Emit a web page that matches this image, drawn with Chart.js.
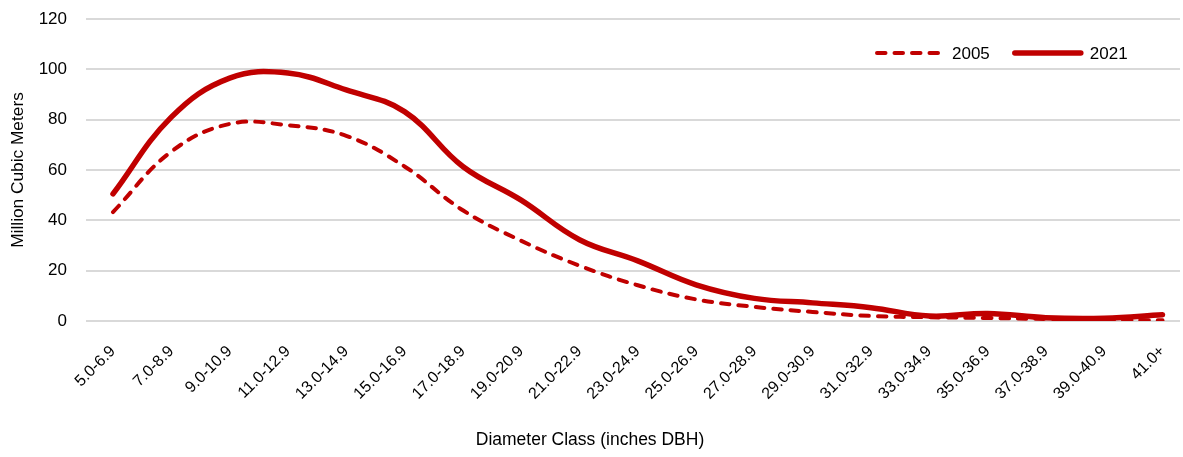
<!DOCTYPE html>
<html>
<head>
<meta charset="utf-8">
<script src="https://cdn.jsdelivr.net/npm/chart.js@4.4.1/dist/chart.umd.min.js"></script>
<style>
  html, body { margin: 0; padding: 0; background: #fff; }
  #wrap { width: 1183px; height: 457px; }
</style>
</head>
<body>
<div id="wrap"><canvas id="c" width="1183" height="457"></canvas></div>
<script>
const categories = ["5.0-6.9","7.0-8.9","9.0-10.9","11.0-12.9","13.0-14.9","15.0-16.9","17.0-18.9","19.0-20.9","21.0-22.9","23.0-24.9","25.0-26.9","27.0-28.9","29.0-30.9","31.0-32.9","33.0-34.9","35.0-36.9","37.0-38.9","39.0-40.9","41.0+"];
const values2005 = [43.3, 67.3, 78.3, 77.8, 73.6, 61.4, 44, 31.9, 22, 14.2, 8.6, 5.6, 3.6, 2, 1.5, 1.2, 0.8, 0.5, 0.3];
const values2021 = [50.5, 81, 96.5, 98.5, 91.8, 83.2, 61.4, 48, 32.3, 23.9, 14.4, 9, 7.2, 5.3, 2, 3, 1.3, 1.1, 2.5];
const yTicks = [0, 20, 40, 60, 80, 100, 120];

const FONT = "'Liberation Sans', Arial, sans-serif";
const RED = '#C00000';

const toPts = arr => arr.map((v, i) => ({ x: i, y: v }));

const customLegend = {
  id: 'customLegend',
  afterDraw(chart) {
    const ctx = chart.ctx;
    const area = chart.chartArea;
    let x = area.right - 305;
    const y = area.top + 34;
    ctx.save();
    ctx.font = '17px ' + FONT;
    ctx.textBaseline = 'middle';
    ctx.textAlign = 'left';
    chart.data.datasets.forEach(ds => {
      ctx.beginPath();
      ctx.strokeStyle = ds.borderColor;
      ctx.lineWidth = ds.borderWidth;
      ctx.lineCap = 'round';
      ctx.setLineDash(ds.borderDash || []);
      ctx.moveTo(x + 2, y);
      ctx.lineTo(x + 68, y);
      ctx.stroke();
      ctx.setLineDash([]);
      x += 77;
      ctx.fillStyle = '#000';
      ctx.fillText(ds.label, x, y + 1);
      x += ctx.measureText(ds.label).width + 23;
    });
    ctx.restore();
  }
};

new Chart(document.getElementById('c'), {
  type: 'line',
  data: {
    datasets: [
      { label: '2005', data: toPts(values2005), borderColor: RED, backgroundColor: RED,
        borderWidth: 4, borderDash: [8.5, 9], borderCapStyle: 'round', tension: 0.4,
        pointRadius: 0, fill: false },
      { label: '2021', data: toPts(values2021), borderColor: RED, backgroundColor: RED,
        borderWidth: 5.5, borderCapStyle: 'round', tension: 0.4,
        pointRadius: 0, fill: false }
    ]
  },
  options: {
    responsive: false,
    animation: false,
    layout: { padding: { top: 19, right: 3, left: 0, bottom: 0 } },
    scales: {
      x: {
        type: 'linear',
        min: -0.463,
        max: 18.30,
        grid: { display: false },
        border: { display: false },
        ticks: {
          stepSize: 1,
          autoSkip: false,
          includeBounds: false,
          minRotation: 45,
          maxRotation: 45,
          padding: 13,
          color: '#000',
          font: { family: FONT, size: 16 },
          callback: v => (Number.isInteger(v) && categories[v] !== undefined) ? categories[v] : ''
        },
        afterFit: s => { s.height = 102; s.paddingLeft = 0; s.paddingRight = 0; }
      },
      y: {
        min: 0,
        max: 120,
        afterBuildTicks: s => { s.ticks = yTicks.map(v => ({ value: v })); },
        grid: { color: '#d9d9d9', lineWidth: 2, drawTicks: false },
        border: { display: false },
        ticks: { padding: 19, color: '#000', font: { family: FONT, size: 17 } },
        title: { display: true, text: 'Million Cubic Meters', color: '#000',
                 font: { family: FONT, size: 17.3 }, padding: { top: 8, bottom: 0 } },
        afterFit: s => { s.width = 86; s.paddingTop = 0; s.paddingBottom = 0; }
      }
    },
    plugins: {
      legend: { display: false },
      title: {
        display: true,
        position: 'bottom',
        text: 'Diameter Class (inches DBH)',
        color: '#000',
        font: { family: FONT, size: 17.5, weight: 'normal' },
        padding: { top: 7, bottom: 6 }
      },
      tooltip: { enabled: false }
    }
  },
  plugins: [customLegend]
});
</script>
</body>
</html>
